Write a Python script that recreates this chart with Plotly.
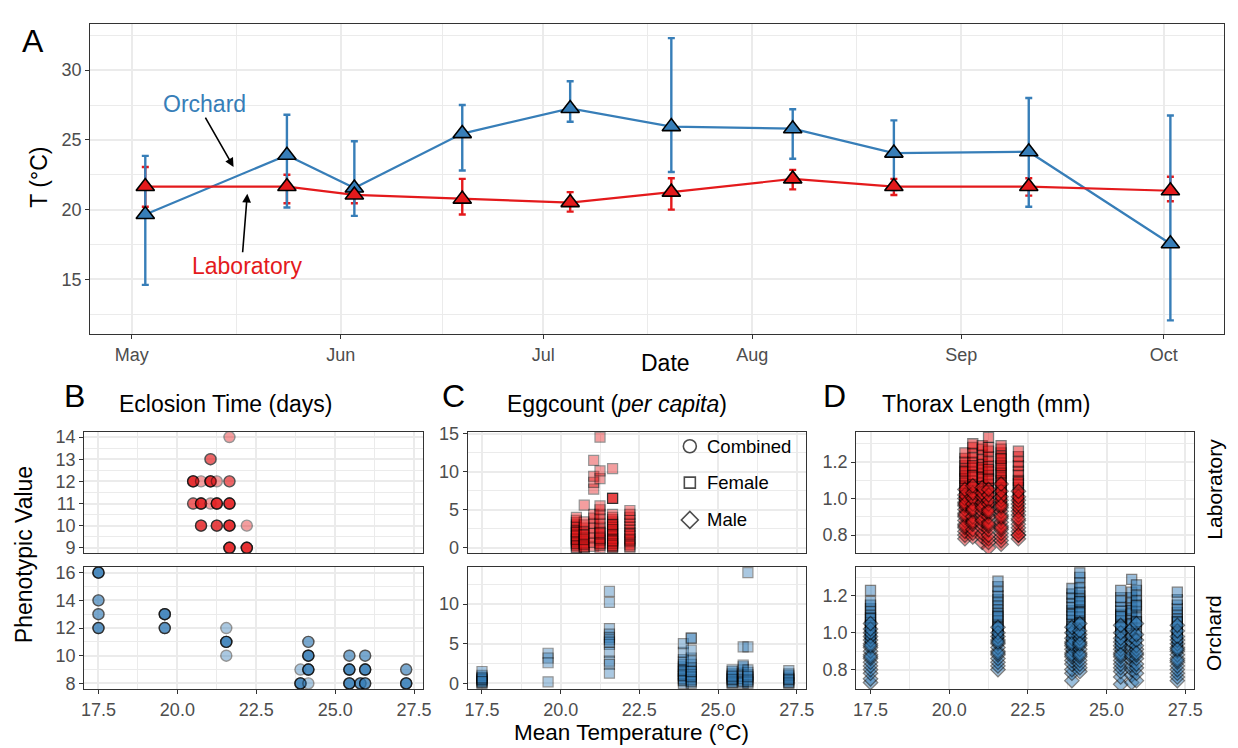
import plotly.graph_objects as go

W, H = 1238, 748
FONT = "Liberation Sans, Arial, sans-serif"
RED = "#E41A1C"
BLUE = "#377EB8"
GRID = "#EBEBEB"
AXIS = "#333333"
TICK_TXT = "#4D4D4D"

# ---- Panel A: temperature per sampling date (mean with min/max range) ----
sample_dates = ["2019-05-03", "2019-05-24", "2019-06-03", "2019-06-19", "2019-07-05",
                "2019-07-20", "2019-08-07", "2019-08-22", "2019-09-11", "2019-10-02"]
orchard_mean = [19.65, 23.9, 21.55, 25.45, 27.25, 25.95, 25.8, 24.05, 24.15, 17.55]
orchard_low = [14.6, 20.15, 19.55, 22.8, 26.3, 22.7, 23.65, 21.4, 20.2, 12.05]
orchard_high = [23.85, 26.8, 24.9, 27.5, 29.2, 32.3, 27.2, 26.4, 28.0, 26.75]
lab_mean = [21.65, 21.65, 21.05, 20.75, 20.5, 21.25, 22.2, 21.65, 21.65, 21.35]
lab_low = [20.2, 20.45, 20.45, 19.65, 19.85, 20.0, 21.45, 21.05, 21.0, 20.6]
lab_high = [23.05, 22.5, 21.6, 22.2, 21.25, 22.25, 22.85, 22.2, 22.25, 22.35]

month_ticks = ["2019-05-01", "2019-06-01", "2019-07-01", "2019-08-01", "2019-09-01", "2019-10-01"]
month_labels = ["May", "Jun", "Jul", "Aug", "Sep", "Oct"]
mid_months = ["2019-05-16 12:00", "2019-06-16", "2019-07-16 12:00", "2019-08-16 12:00", "2019-09-16"]

# ---- Panel B: eclosion time (days), value with number of overlapping vials ----
ecl_lab_temp = [20.5, 20.5, 20.75, 20.75, 20.75, 21.05, 21.05, 21.05, 21.25, 21.25, 21.25,
                21.65, 21.65, 21.65, 21.65, 21.65, 22.2, 22.2]
ecl_lab_days = [12, 11, 12, 11, 10, 13, 12, 11, 12, 11, 10, 14, 12, 11, 10, 9, 10, 9]
ecl_lab_n = [4, 2, 1, 4, 3, 2, 4, 1, 1, 4, 3, 1, 2, 4, 4, 4, 1, 4]
ecl_orch_temp = [17.5, 17.5, 17.5, 17.5, 19.6, 19.6, 21.55, 21.55, 21.55, 23.9, 23.9,
                 24.15, 24.15, 24.15, 24.15, 25.45, 25.45, 25.45, 25.8, 25.95, 25.95, 25.95,
                 27.25, 27.25]
ecl_orch_days = [16, 14, 13, 12, 13, 12, 12, 11, 10, 9, 8, 11, 10, 9, 8, 10, 9, 8, 8, 10, 9, 8, 9, 8]
ecl_orch_n = [4, 2, 2, 3, 4, 3, 1, 4, 1, 1, 4, 2, 4, 4, 1, 2, 4, 4, 3, 2, 4, 3, 2, 4]

# ---- Panel C: eggs per female, grouped by rearing temperature ----
egg_lab_temps = [20.5, 20.75, 21.05, 21.25, 21.65, 22.2]
egg_lab_counts = [
    [0.0, 0.3, 0.5, 0.8, 1.0, 1.2, 1.5, 1.8, 2.0, 2.2, 2.5, 2.8, 3.0, 3.3, 3.6, 4.0, 0.1, 0.6, 1.1, 1.6, 2.1],
    [0.0, 0.2, 0.4, 0.7, 1.0, 1.3, 1.5, 1.9, 2.2, 2.6, 3.0, 3.4, 0.1, 0.5, 1.1, 1.7, 5.6],
    [0.2, 0.7, 1.3, 1.9, 2.6, 3.2, 3.9, 4.4, 7.7, 8.6, 9.4, 11.5],
    [0.0, 0.3, 0.6, 1.0, 1.4, 1.8, 2.2, 2.7, 3.2, 3.8, 4.4, 5.0, 5.5, 9.1, 10.1, 14.55, 0.5, 1.2, 2.0],
    [0.0, 0.2, 0.5, 0.8, 1.0, 1.3, 1.6, 1.9, 2.2, 2.5, 2.8, 3.1, 3.4, 3.7, 4.0, 4.4, 6.5, 6.5, 6.5,
     10.4, 0.1, 0.6, 1.2, 1.8, 2.4, 3.0, 0.3, 0.9],
    [0.0, 0.4, 0.8, 1.2, 1.6, 2.0, 2.4, 2.8, 3.2, 3.6, 4.0, 4.4, 4.9, 0.2, 1.0, 1.8],
]
egg_orch_temps = [17.5, 19.6, 21.55, 23.9, 24.15, 25.45, 25.8, 25.95, 27.25]
egg_orch_counts = [
    [0.0, 0.2, 0.4, 0.6, 0.8, 1.0, 0.1, 0.3, 0.5, 0.7, 1.5],
    [3.8, 3.2, 2.6, 0.2],
    [11.6, 10.2, 6.9, 6.2, 5.8, 5.5, 4.9, 3.9, 2.8, 2.4, 1.3, 5.2],
    [0.0, 0.3, 0.6, 0.9, 1.2, 1.5, 1.8, 2.1, 2.4, 2.7, 3.0, 3.9, 5.0, 0.4, 1.0, 1.6],
    [0.0, 0.2, 0.5, 0.8, 1.1, 1.4, 1.7, 2.0, 2.4, 2.8, 3.2, 4.2, 5.7, 5.7, 0.3, 0.9, 1.5],
    [0.0, 0.2, 0.4, 0.6, 0.8, 1.0, 1.2, 1.5, 1.7, 0.1, 0.5, 0.9],
    [0.0, 0.3, 0.6, 0.9, 1.3, 1.7, 2.1, 2.3, 4.6, 0.2],
    [0.0, 0.2, 0.5, 0.8, 1.1, 1.4, 1.7, 4.6, 13.95, 0.3, 0.9],
    [0.0, 0.2, 0.4, 0.6, 0.8, 1.0, 1.2, 1.6, 0.1, 0.5],
]

# ---- Panel D: thorax length (mm) by sex ----
thx_lab_temps = [20.5, 20.75, 21.05, 21.25, 21.65, 22.2]
thx_lab_female = [
    [0.95, 0.98, 1.00, 1.02, 1.04, 1.06, 1.08, 1.10, 1.12, 1.14, 1.16, 1.18, 1.20, 1.22, 1.25, 1.03, 1.07, 1.11, 1.15, 0.99],
    [0.97, 1.00, 1.03, 1.05, 1.08, 1.10, 1.12, 1.15, 1.17, 1.20, 1.22, 1.25, 1.28, 1.30, 1.02, 1.06, 1.13, 1.18],
    [0.96, 0.99, 1.02, 1.04, 1.07, 1.09, 1.11, 1.14, 1.16, 1.19, 1.21, 1.24, 1.27, 1.29, 1.05, 1.12, 1.17],
    [0.95, 0.98, 1.01, 1.03, 1.06, 1.08, 1.10, 1.13, 1.15, 1.18, 1.20, 1.23, 1.26, 1.28, 1.335, 1.04, 1.11, 1.16],
    [0.96, 0.99, 1.01, 1.03, 1.05, 1.07, 1.09, 1.11, 1.13, 1.15, 1.17, 1.19, 1.21, 1.23, 1.25, 1.27, 1.29,
     1.02, 1.06, 1.10, 1.14, 1.18, 1.22],
    [0.93, 0.96, 0.99, 1.01, 1.03, 1.06, 1.08, 1.10, 1.13, 1.15, 1.18, 1.20, 1.23, 1.26, 1.02, 1.09],
]
thx_lab_male = [
    [0.78, 0.80, 0.82, 0.84, 0.86, 0.88, 0.90, 0.92, 0.94, 0.96, 0.98, 1.00, 1.02, 1.05, 0.85, 0.91, 0.97],
    [0.79, 0.81, 0.83, 0.86, 0.88, 0.90, 0.93, 0.95, 0.97, 1.00, 1.03, 1.07, 0.87, 0.94],
    [0.76, 0.79, 0.81, 0.84, 0.86, 0.89, 0.91, 0.93, 0.96, 0.98, 1.01, 1.03, 1.06, 0.88, 0.95],
    [0.73, 0.76, 0.78, 0.80, 0.83, 0.85, 0.87, 0.90, 0.92, 0.94, 0.97, 0.99, 1.02, 1.05, 0.86, 0.93],
    [0.75, 0.77, 0.79, 0.81, 0.83, 0.85, 0.87, 0.89, 0.91, 0.93, 0.95, 0.97, 0.99, 1.01, 1.04, 1.08, 0.84, 0.90, 0.96],
    [0.78, 0.80, 0.82, 0.84, 0.86, 0.88, 0.91, 0.93, 0.95, 0.97, 0.99, 1.01, 1.04, 0.89, 0.80],
]
thx_orch_temps = [17.5, 21.55, 23.9, 24.15, 25.45, 25.8, 25.95, 27.25]
thx_orch_female = [
    [0.95, 0.97, 0.99, 1.01, 1.03, 1.05, 1.07, 1.09, 1.11, 1.13, 1.15, 1.17, 1.23, 1.00, 1.04, 1.08],
    [0.96, 0.98, 1.00, 1.02, 1.04, 1.06, 1.08, 1.10, 1.12, 1.14, 1.16, 1.18, 1.20, 1.22, 1.25, 1.28, 1.03, 1.09],
    [0.92, 0.95, 0.98, 1.00, 1.02, 1.05, 1.07, 1.09, 1.12, 1.14, 1.16, 1.19, 1.21, 1.24, 1.03, 1.10],
    [0.95, 0.98, 1.00, 1.02, 1.04, 1.06, 1.08, 1.10, 1.12, 1.14, 1.16, 1.18, 1.20, 1.22, 1.24, 1.27, 1.30,
     1.325, 1.05, 1.11, 1.17],
    [0.93, 0.95, 0.98, 1.00, 1.02, 1.04, 1.06, 1.08, 1.10, 1.12, 1.14, 1.17, 1.19, 1.23, 1.03, 1.09],
    [0.95, 0.98, 1.01, 1.04, 1.07, 1.10, 1.13, 1.16, 1.19, 1.22, 1.29, 1.05, 1.12],
    [0.96, 0.99, 1.02, 1.05, 1.08, 1.11, 1.14, 1.17, 1.20, 1.23, 1.26, 1.06, 1.15],
    [0.92, 0.95, 0.97, 0.99, 1.01, 1.03, 1.05, 1.07, 1.09, 1.11, 1.13, 1.15, 1.18, 1.22, 1.00, 1.06],
]
thx_orch_male = [
    [0.73, 0.75, 0.78, 0.80, 0.82, 0.84, 0.86, 0.88, 0.90, 0.92, 0.94, 0.96, 0.98, 1.00, 1.02, 1.05, 0.87, 0.93],
    [0.80, 0.82, 0.84, 0.86, 0.88, 0.90, 0.92, 0.94, 0.96, 0.98, 1.00, 1.03, 0.89, 0.95],
    [0.74, 0.78, 0.80, 0.83, 0.85, 0.87, 0.89, 0.91, 0.93, 0.95, 0.97, 1.00, 1.03, 0.88, 0.94],
    [0.79, 0.81, 0.83, 0.85, 0.87, 0.89, 0.91, 0.93, 0.95, 0.97, 0.99, 1.01, 1.05, 0.88, 0.94],
    [0.72, 0.76, 0.79, 0.81, 0.83, 0.85, 0.87, 0.89, 0.91, 0.93, 0.95, 0.97, 1.00, 1.04, 0.88],
    [0.73, 0.77, 0.80, 0.82, 0.85, 0.87, 0.90, 0.92, 0.95, 0.98, 1.02, 0.88],
    [0.74, 0.78, 0.81, 0.83, 0.86, 0.88, 0.91, 0.93, 0.96, 0.99, 1.05, 0.89],
    [0.74, 0.76, 0.78, 0.80, 0.82, 0.84, 0.86, 0.88, 0.90, 0.92, 0.94, 0.96, 0.98, 1.01, 1.04, 0.85, 0.91],
]

temp_ticks = [17.5, 20.0, 22.5, 25.0, 27.5]
temp_minor = [18.75, 21.25, 23.75, 26.25]
temp_range = [17.05, 27.79]


def px(x):
    return x / W


def py(y):
    return 1 - y / H


def expand(temps, values, counts):
    xs, ys = [], []
    for t, v, n in zip(temps, values, counts):
        xs += [t] * n
        ys += [v] * n
    return xs, ys


def flatten(temps, groups):
    xs, ys = [], []
    for t, g in zip(temps, groups):
        xs += [t] * len(g)
        ys += list(g)
    return xs, ys


fig = go.Figure()

# Panel A: range bars, then lines, then triangles
for mean, low, high, col in [(lab_mean, lab_low, lab_high, RED),
                             (orchard_mean, orchard_low, orchard_high, BLUE)]:
    fig.add_trace(go.Scatter(
        x=sample_dates, y=mean, mode="markers", marker=dict(size=2, opacity=0),
        error_y=dict(type="data", symmetric=False,
                     array=[h - m for h, m in zip(high, mean)],
                     arrayminus=[m - l for m, l in zip(mean, low)],
                     color=col, thickness=2.4, width=3.5),
        xaxis="x", yaxis="y", showlegend=False, hoverinfo="skip"))
for mean, col in [(orchard_mean, BLUE), (lab_mean, RED)]:
    fig.add_trace(go.Scatter(x=sample_dates, y=mean, mode="lines",
                             line=dict(color=col, width=2.2),
                             xaxis="x", yaxis="y", showlegend=False, hoverinfo="skip"))
for mean, col in [(orchard_mean, BLUE), (lab_mean, RED)]:
    fig.add_trace(go.Scatter(x=sample_dates, y=mean, mode="markers",
                             marker=dict(symbol="triangle-up", size=16, color=col,
                                         line=dict(color="black", width=1.6)),
                             xaxis="x", yaxis="y", showlegend=False, hoverinfo="skip"))

# Panel B: eclosion time
bx, by = expand(ecl_lab_temp, ecl_lab_days, ecl_lab_n)
fig.add_trace(go.Scatter(x=bx, y=by, mode="markers", xaxis="x2", yaxis="y2", showlegend=False,
                         marker=dict(symbol="circle", size=11, color=RED, opacity=0.42,
                                     line=dict(color="black", width=1.4))))
bx, by = expand(ecl_orch_temp, ecl_orch_days, ecl_orch_n)
fig.add_trace(go.Scatter(x=bx, y=by, mode="markers", xaxis="x3", yaxis="y3", showlegend=False,
                         marker=dict(symbol="circle", size=11, color=BLUE, opacity=0.42,
                                     line=dict(color="black", width=1.4))))

# Panel C: egg counts (females)
cx, cy = flatten(egg_lab_temps, egg_lab_counts)
fig.add_trace(go.Scatter(x=cx, y=cy, mode="markers", xaxis="x4", yaxis="y4", showlegend=False,
                         marker=dict(symbol="square", size=10, color=RED, opacity=0.42,
                                     line=dict(color="black", width=1.2))))
cx, cy = flatten(egg_orch_temps, egg_orch_counts)
fig.add_trace(go.Scatter(x=cx, y=cy, mode="markers", xaxis="x5", yaxis="y5", showlegend=False,
                         marker=dict(symbol="square", size=10, color=BLUE, opacity=0.42,
                                     line=dict(color="black", width=1.2))))

# Panel D: thorax length
for temps, fem, mal, col, xa, ya in [
        (thx_lab_temps, thx_lab_female, thx_lab_male, RED, "x6", "y6"),
        (thx_orch_temps, thx_orch_female, thx_orch_male, BLUE, "x7", "y7")]:
    dx, dy = flatten(temps, fem)
    fig.add_trace(go.Scatter(x=dx, y=dy, mode="markers", xaxis=xa, yaxis=ya, showlegend=False,
                             marker=dict(symbol="square", size=10, color=col, opacity=0.5,
                                         line=dict(color="black", width=1.3))))
    dx, dy = flatten(temps, mal)
    fig.add_trace(go.Scatter(x=dx, y=dy, mode="markers", xaxis=xa, yaxis=ya, showlegend=False,
                             marker=dict(symbol="diamond", size=11, color=col, opacity=0.5,
                                         line=dict(color="black", width=1.3))))

# Shape key (drawn on a pixel-space overlay axis)
key_labels = ["Combined", "Female", "Male"]
key_symbols = ["circle-open", "square-open", "diamond-open"]
key_y = [446, 483, 521]
fig.add_trace(go.Scatter(x=[693, 693, 693], y=key_y, mode="markers", xaxis="x8", yaxis="y8",
                         showlegend=False, hoverinfo="skip",
                         marker=dict(symbol=key_symbols, size=[13, 11, 13], color="black",
                                     line=dict(color="black", width=1.6))))

common = dict(showline=True, linecolor=AXIS, linewidth=1.3, mirror=True,
              ticks="outside", ticklen=4, tickwidth=1.3, tickcolor=AXIS,
              showgrid=True, gridcolor=GRID, gridwidth=1.6, zeroline=False,
              tickfont=dict(family=FONT, size=18, color=TICK_TXT), fixedrange=True)


def minor(vals):
    return dict(tickmode="array", tickvals=vals, showgrid=True, gridcolor=GRID, gridwidth=0.9, ticks="")


def xaxis_temp(left, right, anchor, labels):
    d = dict(common)
    d.update(domain=[px(left), px(right)], range=temp_range, anchor=anchor,
             tickmode="array", tickvals=temp_ticks, minor=minor(temp_minor),
             tickformat=".1f")
    if not labels:
        d.update(showticklabels=False, ticks="")
    return d


def yaxis_lin(top, bottom, anchor, rng, ticks, minors, fmt=None):
    d = dict(common)
    d.update(domain=[py(bottom), py(top)], range=rng, anchor=anchor,
             tickmode="array", tickvals=ticks, minor=minor(minors))
    if fmt:
        d["tickformat"] = fmt
    return d


xa = dict(common)
xa.update(type="date", domain=[px(88), px(1232)], range=["2019-04-24 20:00", "2019-10-09 23:00"],
          anchor="y", tickmode="array", tickvals=month_ticks, ticktext=month_labels,
          minor=minor(mid_months))
ya = yaxis_lin(16, 332, "x", [11.06, 33.33], [15, 20, 25, 30], [12.5, 17.5, 22.5, 27.5, 32.5])

LAB_TOP, LAB_BOT, ORC_TOP, ORC_BOT = 431, 555, 569, 693

layout_axes = dict(
    xaxis=xa, yaxis=ya,
    xaxis2=xaxis_temp(82, 424, "y2", False),
    yaxis2=yaxis_lin(LAB_TOP, LAB_BOT, "x2", [8.75, 14.25], [9, 10, 11, 12, 13, 14],
                     [9.5, 10.5, 11.5, 12.5, 13.5]),
    xaxis3=xaxis_temp(82, 424, "y3", True),
    yaxis3=yaxis_lin(ORC_TOP, ORC_BOT, "x3", [7.6, 16.4], [8, 10, 12, 14, 16], [9, 11, 13, 15]),
    xaxis4=xaxis_temp(469, 810, "y4", False),
    yaxis4=yaxis_lin(LAB_TOP, LAB_BOT, "x4", [-0.73, 15.28], [0, 5, 10, 15], [2.5, 7.5, 12.5]),
    xaxis5=xaxis_temp(469, 810, "y5", True),
    yaxis5=yaxis_lin(ORC_TOP, ORC_BOT, "x5", [-0.7, 14.65], [0, 5, 10], [2.5, 7.5, 12.5]),
    xaxis6=xaxis_temp(861, 1202, "y6", False),
    yaxis6=yaxis_lin(LAB_TOP, LAB_BOT, "x6", [0.70, 1.367], [0.8, 1.0, 1.2], [0.7, 0.9, 1.1, 1.3], ".1f"),
    xaxis7=xaxis_temp(861, 1202, "y7", True),
    yaxis7=yaxis_lin(ORC_TOP, ORC_BOT, "x7", [0.695, 1.356], [0.8, 1.0, 1.2], [0.7, 0.9, 1.1, 1.3], ".1f"),
    xaxis8=dict(domain=[0, 1], range=[0, W], visible=False, anchor="y8", fixedrange=True),
    yaxis8=dict(domain=[0, 1], range=[H, 0], visible=False, anchor="x8", fixedrange=True),
)


def text(x, y, s, size=23, color="black", angle=0, xanchor="center"):
    return dict(x=px(x), y=py(y), xref="paper", yref="paper", text=s, showarrow=False,
                textangle=angle, xanchor=xanchor, yanchor="middle",
                font=dict(family=FONT, size=size, color=color))


def arrow(hx, hy, tx, ty):
    return dict(x=px(hx), y=py(hy), xref="paper", yref="paper", text="", showarrow=True,
                ax=tx - hx, ay=ty - hy, arrowhead=2, arrowsize=1.1, arrowwidth=1.6,
                arrowcolor="black", standoff=0, startstandoff=0)


annotations = [
    text(30, 34, "A", size=32), text(72, 395, "B", size=32),
    text(455, 395, "C", size=32), text(839, 395, "D", size=32),
    text(224, 403, "Eclosion Time (days)"),
    text(620, 403, "Eggcount (<i>per capita</i>)"),
    text(992, 403, "Thorax Length (mm)"),
    text(36, 172, "T (°C)", angle=-90),
    text(668, 361, "Date"),
    text(22, 556, "Phenotypic Value", angle=-90),
    text(634, 737, "Mean Temperature (°C)", size=22.5),
    text(1222, 490, "Laboratory", size=21, angle=-90),
    text(1222, 636, "Orchard", size=21, angle=-90),
    text(203, 98, "Orchard", color=BLUE),
    text(246, 263, "Laboratory", color=RED),
    arrow(232.6, 161.7, 203.6, 111),
    arrow(246.5, 189, 241.7, 249),
]
for lbl, yy in zip(key_labels, key_y):
    annotations.append(text(708, yy, lbl, size=18.5, xanchor="left"))

fig.update_layout(
    width=W, height=H, autosize=False,
    margin=dict(l=0, r=0, t=0, b=0, pad=0),
    paper_bgcolor="white", plot_bgcolor="rgba(0,0,0,0)",
    font=dict(family=FONT, color="black"),
    showlegend=False, hovermode=False,
    annotations=annotations,
    **layout_axes,
)

fig.write_html("out.html")
